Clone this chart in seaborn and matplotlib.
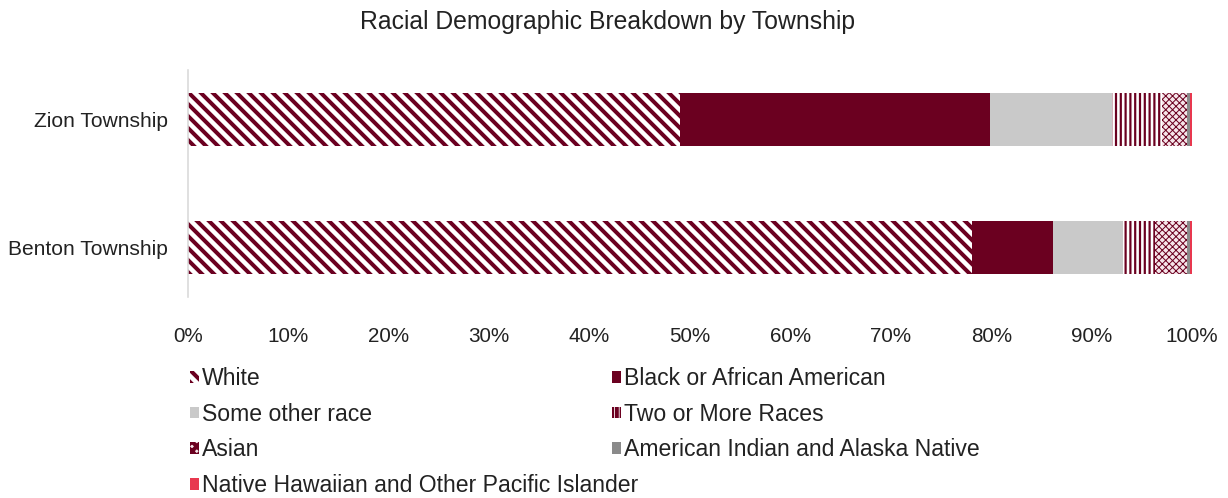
import matplotlib
matplotlib.use("Agg")
import matplotlib.pyplot as plt
from matplotlib.patches import Patch
import seaborn as sns
import pandas as pd
import numpy as np

# Share of population by race (%), per township
townships = ["Zion Township", "Benton Township"]
categories = [
    "White",
    "Black or African American",
    "Some other race",
    "Two or More Races",
    "Asian",
    "American Indian and Alaska Native",
    "Native Hawaiian and Other Pacific Islander",
]
zion = [49.0, 30.9, 12.1, 5.0, 2.5, 0.3, 0.2]
benton = [78.1, 8.1, 6.9, 3.2, 3.2, 0.3, 0.2]
xticks = [0, 10, 20, 30, 40, 50, 60, 70, 80, 90, 100]

MAROON = "#6b0020"
styles = {
    "White": dict(fc="white", ec=MAROON, hatch="\\" * 4, hlw=2.0),
    "Black or African American": dict(fc=MAROON, ec=MAROON, hatch=None, hlw=1.0),
    "Some other race": dict(fc="#c9c9c9", ec="#c9c9c9", hatch=None, hlw=1.0),
    "Two or More Races": dict(fc="white", ec=MAROON, hatch="|" * 5, hlw=1.1),
    "Asian": dict(fc="#f6e6ea", ec=MAROON, hatch="x" * 7, hlw=0.5),
    "American Indian and Alaska Native": dict(fc="#8a8a8a", ec="#8a8a8a", hatch=None, hlw=1.0),
    "Native Hawaiian and Other Pacific Islander": dict(fc="#e8384f", ec="#e8384f", hatch=None, hlw=1.0),
}

df = pd.DataFrame({"township": np.repeat(townships, len(categories)),
                   "race": categories * len(townships),
                   "pct": zion + benton})
df["cum"] = df.groupby("township")["pct"].cumsum()

sns.set_theme(style="white")
plt.rcParams["font.family"] = ["Liberation Sans", "DejaVu Sans"]
TEXT = "#222222"

DPI = 144
fig = plt.figure(figsize=(1228 / DPI, 498 / DPI), dpi=DPI)
ax = fig.add_axes([188 / 1228, 1 - 297 / 498, (1192 - 188) / 1228, (297 - 70) / 498])

# Stacked bars: draw cumulative totals from the outermost segment inward
for race in reversed(categories):
    st = styles[race]
    sub = df[df["race"] == race]
    plt.rcParams["hatch.linewidth"] = st["hlw"]
    before = len(ax.patches)
    sns.barplot(data=sub, x="cum", y="township", order=townships, orient="h",
                color=st["fc"], saturation=1, width=0.41, ax=ax,
                edgecolor=st["ec"], linewidth=0, hatch=st["hatch"])
    for p in ax.patches[before:]:
        p.set_facecolor(st["fc"])
        if hasattr(p, "set_hatch_linewidth"):
            p.set_hatch_linewidth(st["hlw"])

ax.set_xlim(0, 100)
ax.set_ylim(1.387, -0.387)
ax.set_xticks(xticks)
ax.set_xticklabels([f"{t}%" for t in xticks])
ax.set_xlabel("")
ax.set_ylabel("")
ax.tick_params(axis="x", length=0, pad=15, labelsize=10.3, labelcolor=TEXT)
ax.tick_params(axis="y", length=0, pad=10, labelsize=10.5, labelcolor=TEXT)
for side in ["top", "right", "bottom"]:
    ax.spines[side].set_visible(False)
ax.spines["left"].set_color("#d9d9d9")
ax.spines["left"].set_linewidth(0.8)

fig.text(0.4945, 1 - 22 / 498, "Racial Demographic Breakdown by Township",
         ha="center", va="center", fontsize=12.4, color=TEXT)


def handle(race):
    st = styles[race]
    hatch = st["hatch"]
    if race == "Asian":
        hatch = "x" * 5
    h = Patch(facecolor=st["fc"], edgecolor=st["ec"], hatch=hatch, linewidth=0)
    if hasattr(h, "set_hatch_linewidth"):
        h.set_hatch_linewidth(st["hlw"])
    return h


col1 = [categories[0], categories[2], categories[4], categories[6]]
col2 = [categories[1], categories[3], categories[5]]
leg_kw = dict(frameon=False, fontsize=11.5, handlelength=0.4, handleheight=0.4,
              handletextpad=0.1, labelspacing=0.55, borderpad=0, borderaxespad=0,
              loc="upper left", labelcolor=TEXT)
leg1 = fig.legend([handle(r) for r in col1], col1,
                  bbox_to_anchor=(190 / 1228, 1 - 367 / 498), **leg_kw)
leg2 = fig.legend([handle(r) for r in col2], col2,
                  bbox_to_anchor=(612 / 1228, 1 - 367 / 498), **leg_kw)

fig.savefig("out.png", dpi=DPI)
